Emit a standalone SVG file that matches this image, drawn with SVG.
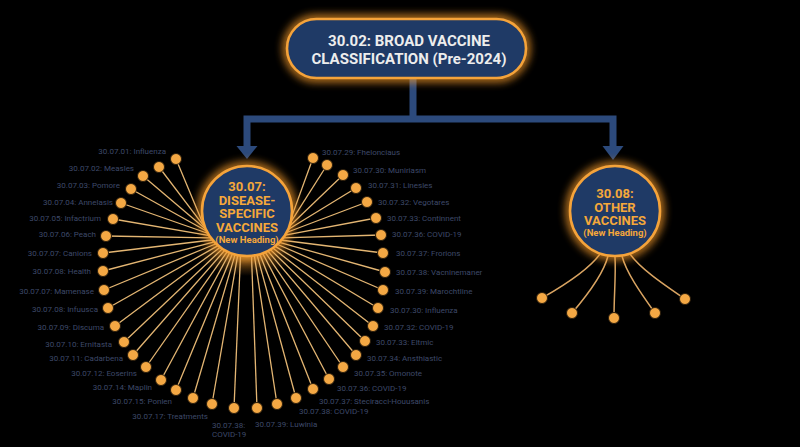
<svg xmlns="http://www.w3.org/2000/svg" width="800" height="447" viewBox="0 0 800 447">
<defs>
<filter id="glow" x="-50%" y="-50%" width="200%" height="200%">
<feGaussianBlur stdDeviation="4.5"/>
</filter>
<radialGradient id="fanGlow" cx="0.5" cy="0.5" r="0.5">
<stop offset="0" stop-color="#FFB347" stop-opacity="0.8"/>
<stop offset="0.5" stop-color="#F59A2A" stop-opacity="0.35"/>
<stop offset="1" stop-color="#F59A2A" stop-opacity="0"/>
</radialGradient>
<style>
.bg{fill:#000}
.node{fill:#1F3A66;stroke:#F5A33A;stroke-width:2.6}
.halo{fill:none;stroke:#F59A2A;stroke-width:8;opacity:0.85}
.conn{fill:none;stroke:#2C4A7C;stroke-width:7}
.head{fill:#2C4A7C}
.ray{stroke:#E4B673;stroke-width:1.3}
.sub{fill:none;stroke:#D9A462;stroke-width:1.5}
.dot{fill:#F4A844;stroke:#2a1d0c;stroke-width:1}
.lbl{font-family:Roboto,"Liberation Sans",sans-serif;font-size:8px;fill:#3E4969}
.ttl{font-family:Roboto,"Liberation Sans",sans-serif;font-size:15px;font-weight:bold;fill:#EDEDED;text-anchor:middle}
.ct{font-family:Roboto,"Liberation Sans",sans-serif;font-size:13px;font-weight:bold;fill:#F5A83A;text-anchor:middle}
.cs{font-family:Roboto,"Liberation Sans",sans-serif;font-size:9.5px;font-weight:bold;fill:#F5A83A;text-anchor:middle}
</style>
</defs>
<rect class="bg" x="0" y="0" width="800" height="447"/>

<g id="connectors">
<path class="conn" d="M413,78 V119 M243.5,119 H616.5 M247,119 V147 M613,119 V147"/>
<path class="head" d="M236.5,146 H257.5 L247,159 Z"/>
<path class="head" d="M602.5,146 H623.5 L613,160 Z"/>
<ellipse cx="246" cy="252" rx="50" ry="24" fill="url(#fanGlow)"/>
<g id="rays">
<line class="ray" x1="176" y1="159" x2="202.5" y2="222.6"/>
<line class="ray" x1="159" y1="167" x2="203.3" y2="225.3"/>
<line class="ray" x1="143" y1="176" x2="204.3" y2="228.0"/>
<line class="ray" x1="131" y1="189" x2="205.5" y2="230.5"/>
<line class="ray" x1="121" y1="203" x2="206.8" y2="233.0"/>
<line class="ray" x1="113" y1="219" x2="208.2" y2="235.4"/>
<line class="ray" x1="106" y1="236" x2="209.8" y2="237.8"/>
<line class="ray" x1="103" y1="253" x2="211.6" y2="240.0"/>
<line class="ray" x1="103" y1="271" x2="213.4" y2="242.1"/>
<line class="ray" x1="104" y1="290" x2="215.4" y2="244.0"/>
<line class="ray" x1="108" y1="308" x2="217.6" y2="245.9"/>
<line class="ray" x1="115" y1="326" x2="219.8" y2="247.6"/>
<line class="ray" x1="124" y1="342" x2="222.1" y2="249.1"/>
<line class="ray" x1="133" y1="355" x2="224.5" y2="250.6"/>
<line class="ray" x1="146" y1="367" x2="227.1" y2="251.8"/>
<line class="ray" x1="161" y1="380" x2="229.6" y2="252.9"/>
<line class="ray" x1="176" y1="390" x2="232.3" y2="253.9"/>
<line class="ray" x1="193" y1="398" x2="235.0" y2="254.6"/>
<line class="ray" x1="212" y1="404" x2="237.7" y2="255.2"/>
<line class="ray" x1="234" y1="408" x2="240.5" y2="255.7"/>
<line class="ray" x1="257" y1="408" x2="251.5" y2="255.7"/>
<line class="ray" x1="277" y1="404" x2="254.3" y2="255.2"/>
<line class="ray" x1="296" y1="398" x2="257.0" y2="254.6"/>
<line class="ray" x1="313" y1="389" x2="259.7" y2="253.9"/>
<line class="ray" x1="329" y1="379" x2="262.4" y2="252.9"/>
<line class="ray" x1="343" y1="367" x2="264.9" y2="251.8"/>
<line class="ray" x1="356" y1="355" x2="267.5" y2="250.6"/>
<line class="ray" x1="365" y1="341" x2="269.9" y2="249.1"/>
<line class="ray" x1="373" y1="326" x2="272.2" y2="247.6"/>
<line class="ray" x1="378" y1="308" x2="274.4" y2="245.9"/>
<line class="ray" x1="383" y1="290" x2="276.6" y2="244.0"/>
<line class="ray" x1="385" y1="272" x2="278.6" y2="242.1"/>
<line class="ray" x1="383" y1="253" x2="280.4" y2="240.0"/>
<line class="ray" x1="381" y1="235" x2="282.2" y2="237.8"/>
<line class="ray" x1="376" y1="218" x2="283.8" y2="235.4"/>
<line class="ray" x1="367" y1="202" x2="285.2" y2="233.0"/>
<line class="ray" x1="356" y1="188" x2="286.5" y2="230.5"/>
<line class="ray" x1="343" y1="175" x2="287.7" y2="228.0"/>
<line class="ray" x1="327" y1="165" x2="288.7" y2="225.3"/>
<line class="ray" x1="313" y1="158" x2="289.5" y2="222.6"/>
</g>
<g id="subcurves">
<path class="sub" d="M600,254 C590,268 570,282 542,298"/>
<path class="sub" d="M608,256 C604,272 590,292 572,313"/>
<path class="sub" d="M615,257 C616,275 614,295 614,318"/>
<path class="sub" d="M622,256 C626,272 640,292 655,313"/>
<path class="sub" d="M630,254 C640,268 660,282 685,299"/>
</g>
</g>

<g id="node-3002">
<rect class="halo" x="287" y="19" width="239" height="59" rx="29.5" filter="url(#glow)"/>
<rect class="node" x="287" y="19" width="239" height="59" rx="29.5"/>
<text class="ttl" x="409" y="46">30.02: BROAD VACCINE</text>
<text class="ttl" x="409" y="64">CLASSIFICATION (Pre-2024)</text>
</g>

<g id="node-3007">
<circle class="halo" cx="247" cy="211" r="45" filter="url(#glow)"/>
<circle class="node" cx="247" cy="211" r="45"/>
<text class="ct" x="247" y="191">30.07:</text>
<text class="ct" x="247" y="204.5">DISEASE-</text>
<text class="ct" x="247" y="218">SPECIFIC</text>
<text class="ct" x="247" y="231.5">VACCINES</text>
<text class="cs" x="247" y="243">(New Heading)</text>
</g>

<g id="node-3008">
<circle class="halo" cx="615" cy="211" r="45" filter="url(#glow)"/>
<circle class="node" cx="615" cy="211" r="45"/>
<text class="ct" x="615" y="198">30.08:</text>
<text class="ct" x="615" y="211.5">OTHER</text>
<text class="ct" x="615" y="225">VACCINES</text>
<text class="cs" x="615" y="236">(New Heading)</text>
</g>

<g id="dots-3007">
<circle class="dot" cx="176" cy="159" r="5.5"/>
<circle class="dot" cx="159" cy="167" r="5.5"/>
<circle class="dot" cx="143" cy="176" r="5.5"/>
<circle class="dot" cx="131" cy="189" r="5.5"/>
<circle class="dot" cx="121" cy="203" r="5.5"/>
<circle class="dot" cx="113" cy="219" r="5.5"/>
<circle class="dot" cx="106" cy="236" r="5.5"/>
<circle class="dot" cx="103" cy="253" r="5.5"/>
<circle class="dot" cx="103" cy="271" r="5.5"/>
<circle class="dot" cx="104" cy="290" r="5.5"/>
<circle class="dot" cx="108" cy="308" r="5.5"/>
<circle class="dot" cx="115" cy="326" r="5.5"/>
<circle class="dot" cx="124" cy="342" r="5.5"/>
<circle class="dot" cx="133" cy="355" r="5.5"/>
<circle class="dot" cx="146" cy="367" r="5.5"/>
<circle class="dot" cx="161" cy="380" r="5.5"/>
<circle class="dot" cx="176" cy="390" r="5.5"/>
<circle class="dot" cx="193" cy="398" r="5.5"/>
<circle class="dot" cx="212" cy="404" r="5.5"/>
<circle class="dot" cx="234" cy="408" r="5.5"/>
<circle class="dot" cx="257" cy="408" r="5.5"/>
<circle class="dot" cx="277" cy="404" r="5.5"/>
<circle class="dot" cx="296" cy="398" r="5.5"/>
<circle class="dot" cx="313" cy="389" r="5.5"/>
<circle class="dot" cx="329" cy="379" r="5.5"/>
<circle class="dot" cx="343" cy="367" r="5.5"/>
<circle class="dot" cx="356" cy="355" r="5.5"/>
<circle class="dot" cx="365" cy="341" r="5.5"/>
<circle class="dot" cx="373" cy="326" r="5.5"/>
<circle class="dot" cx="378" cy="308" r="5.5"/>
<circle class="dot" cx="383" cy="290" r="5.5"/>
<circle class="dot" cx="385" cy="272" r="5.5"/>
<circle class="dot" cx="383" cy="253" r="5.5"/>
<circle class="dot" cx="381" cy="235" r="5.5"/>
<circle class="dot" cx="376" cy="218" r="5.5"/>
<circle class="dot" cx="367" cy="202" r="5.5"/>
<circle class="dot" cx="356" cy="188" r="5.5"/>
<circle class="dot" cx="343" cy="175" r="5.5"/>
<circle class="dot" cx="327" cy="165" r="5.5"/>
<circle class="dot" cx="313" cy="158" r="5.5"/>
</g>

<g id="dots-3008">
<circle class="dot" cx="542" cy="298" r="5.5"/>
<circle class="dot" cx="572" cy="313" r="5.5"/>
<circle class="dot" cx="614" cy="318" r="5.5"/>
<circle class="dot" cx="655" cy="313" r="5.5"/>
<circle class="dot" cx="685" cy="299" r="5.5"/>
</g>

<g id="labels-left" class="lbl" text-anchor="end">
<text x="166" y="154">30.07.01: Influenza</text>
<text x="134" y="171">30.07.02: Measles</text>
<text x="120" y="188">30.07.03: Pomore</text>
<text x="113" y="205">30.07.04: Annelasis</text>
<text x="101" y="221">30.07.05: Infactrium</text>
<text x="96" y="237">30.07.06: Peach</text>
<text x="92" y="256">30.07.07: Canions</text>
<text x="91" y="274">30.07.08: Health</text>
<text x="94" y="294">30.07.07: Mamenase</text>
<text x="98" y="312">30.07.08: Infuusca</text>
<text x="104" y="330">30.07.09: Discuma</text>
<text x="112" y="347">30.07.10: Ernitasta</text>
<text x="123" y="361">30.07.11: Cadarbena</text>
<text x="137" y="376">30.07.12: Eoserins</text>
<text x="152" y="390">30.07.14: Maplin</text>
<text x="172" y="404">30.07.15: Ponien</text>
<text x="208" y="419">30.07.17: Treatments</text>
</g>
<g id="labels-bottom" class="lbl">
<text x="212" y="428">30.07.38:</text>
<text x="212" y="437">COVID-19</text>
<text x="255" y="427">30.07.39: Luwinia</text>
</g>
<g id="labels-right" class="lbl">
<text x="322" y="155">30.07.29: Fhelonciaus</text>
<text x="353" y="173">30.07.30: Muniriasm</text>
<text x="368" y="188">30.07.31: Linesles</text>
<text x="378" y="205">30.07.32: Vegotares</text>
<text x="387" y="221">30.07.33: Continnent</text>
<text x="392" y="237">30.07.36: COVID-19</text>
<text x="396" y="256">30.07.37: Frorions</text>
<text x="396" y="275">30.07.38: Vacninemaner</text>
<text x="395" y="294">30.07.39: Marochtline</text>
<text x="390" y="313">30.07.30: Influenza</text>
<text x="384" y="330">30.07.32: COVID-19</text>
<text x="376" y="345">30.07.33: Eltmic</text>
<text x="367" y="361">30.07.34: Ansthiastic</text>
<text x="354" y="376">30.07.35: Omonote</text>
<text x="337" y="391">30.07.36: COVID-19</text>
<text x="319" y="404">30.07.37: Steciracci-Houusanis</text>
<text x="299" y="414">30.07.38: COVID-19</text>
</g>
</svg>
